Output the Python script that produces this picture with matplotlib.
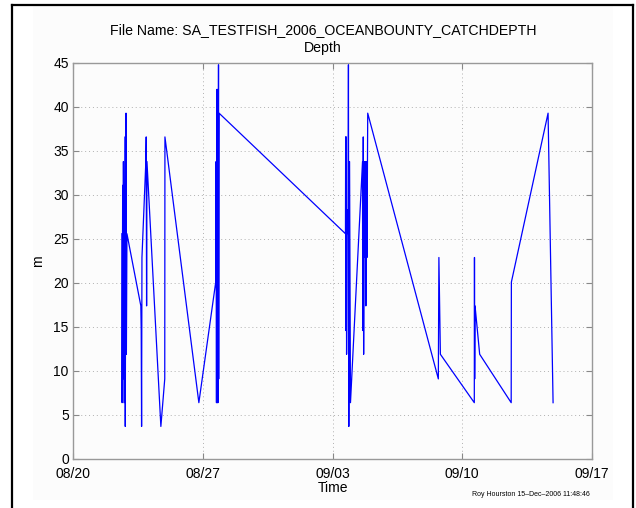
import numpy as np
import matplotlib
matplotlib.use("Agg")
import matplotlib.pyplot as plt
import matplotlib.dates as mdates
from matplotlib.lines import Line2D
from matplotlib.patches import Rectangle

# ── Data ─────────────────────────────────────────────────────────────────────
START = np.datetime64("2006-08-20T00:00")

# days since 08/20 for each catch
days = [
    2.64, 2.65, 2.68, 2.70, 2.72, 2.75, 2.80, 2.82, 2.86, 2.88, 2.91,
    3.66, 3.68, 3.70, 3.72, 3.93, 3.95, 3.97, 3.99,
    4.74, 4.95, 4.96,
    6.79,
    7.70, 7.72, 7.74, 7.76, 7.78, 7.80, 7.82, 7.85, 7.86, 7.88,
    14.70, 14.71, 14.72, 14.74, 14.76, 14.80, 14.84, 14.86, 14.88, 14.92, 14.97,
    15.62, 15.63, 15.66, 15.68, 15.72, 15.74, 15.78, 15.80, 15.84, 15.86, 15.90,
    19.71, 19.74, 19.82,
    21.65, 21.66, 21.67, 21.69, 21.94,
    23.64, 23.65,
    25.63, 25.90,
]
depth_m = [
    25.6, 6.4, 31.1, 9.1, 33.8, 6.4, 36.6, 3.7, 39.3, 11.9, 25.6,
    17.4, 14.6, 3.7, 22.9, 33.8, 36.6, 17.4, 33.8,
    3.7, 9.1, 36.6,
    6.4,
    20.1, 33.8, 6.4, 42.0, 6.4, 42.0, 6.4, 44.8, 9.1, 39.3,
    25.6, 36.6, 14.6, 36.6, 11.9, 28.3, 25.6, 44.8, 3.7, 33.8, 6.4,
    33.8, 14.6, 36.6, 11.9, 33.8, 22.9, 33.8, 17.4, 33.8, 22.9, 39.3,
    9.1, 22.9, 11.9,
    6.4, 22.9, 9.1, 17.4, 11.9,
    6.4, 20.1,
    39.3, 6.4,
]

tick_dates = ["2006-08-20", "2006-08-27", "2006-09-03", "2006-09-10", "2006-09-17"]
y_ticks = list(range(0, 46, 5))

title_text = "File Name: SA_TESTFISH_2006_OCEANBOUNTY_CATCHDEPTH\nDepth"
footer_text = "Roy Hourston 15\u2013Dec\u20132006 11:48:46"

times = [(START + np.timedelta64(int(round(d * 1440)), "m")).astype(object) for d in days]

plt.rcParams["font.family"] = ["Liberation Sans", "DejaVu Sans"]

fig = plt.figure(figsize=(6.36, 5.08), dpi=100)

# faint page background + black frame lines
fig.patches.append(Rectangle((33 / 636, 1 - 500 / 508), 580 / 636, 494 / 508,
                             transform=fig.transFigure, facecolor="#fcfcfc",
                             edgecolor="none", zorder=-10))
frame = dict(transform=fig.transFigure, color="black", lw=1.6)
fig.lines.append(Line2D([12 / 636, 12 / 636], [0, 1 - 5 / 508], **frame))
fig.lines.append(Line2D([633 / 636, 633 / 636], [0, 1 - 5 / 508], **frame))
fig.lines.append(Line2D([12 / 636, 633 / 636], [1 - 5 / 508, 1 - 5 / 508], **frame))

ax = fig.add_axes([73 / 636, 1 - 459 / 508, 519 / 636, 396 / 508])
ax.set_facecolor("#fcfcfc")

ax.plot(times, depth_m, color="blue", lw=0.9)

tick_objs = [np.datetime64(t).astype("datetime64[D]").astype(object) for t in tick_dates]
ax.set_xlim(tick_objs[0], tick_objs[-1])
ax.set_xticks(tick_objs)
ax.xaxis.set_major_formatter(mdates.DateFormatter("%m/%d"))
ax.set_ylim(0, 45)
ax.set_yticks(y_ticks)

ax.grid(True, linestyle=(0, (1, 3)), color="#b0b0b0", lw=0.7)
ax.tick_params(direction="in", top=True, right=True, length=4, width=0.8,
               color="#888888", labelsize=10)
ax.tick_params(axis="x", pad=6)
ax.tick_params(axis="y", pad=3)
for s in ax.spines.values():
    s.set_color("#999999")
    s.set_linewidth(1.0)

ax.set_xlabel("Time", fontsize=10, labelpad=0)
ax.set_ylabel("m", fontsize=10, labelpad=6)

fig.text(323 / 636, 1 - 39 / 508, title_text, ha="center", va="center",
         fontsize=10.2, linespacing=1.3)
fig.text(590 / 636, 1 - 494 / 508, footer_text, ha="right", va="center", fontsize=5)

fig.savefig("out.png", dpi=100)
